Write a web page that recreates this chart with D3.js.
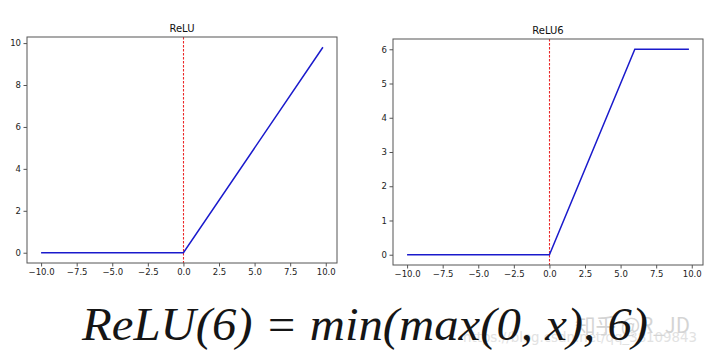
<!DOCTYPE html>
<html><head><meta charset="utf-8">
<script src="https://cdnjs.cloudflare.com/ajax/libs/d3/7.8.5/d3.min.js"></script>
<style>body{margin:0;background:#fff}svg{display:block}</style>
</head><body>
<svg id="c" width="709" height="356"></svg>
<script>
// breakpoints of the plotted polylines
const reluX = [-10, 0, 9.8];
const reluY = [0, 0, 9.8];
const relu6X = [-10, 0, 6, 9.8];
const relu6Y = [0, 0, 6, 6];
const xTicks = [-10, -7.5, -5, -2.5, 0, 2.5, 5, 7.5, 10];
const reluYTicks = [0, 2, 4, 6, 8, 10];
const relu6YTicks = [0, 1, 2, 3, 4, 5, 6];
const titles = ["ReLU", "ReLU6"];
const formula = "ReLU(6) = min(max(0, x), 6)";
const watermark = "知乎 @R_JD";
const watermarkUrl = "https://blog.csdn.net/qq_38109843";

const svg = d3.select("#c");
const fmt = v => (v < 0 ? "\u2212" : "") + Math.abs(v).toFixed(1);

function panel(box, xs, ys, yDom, yTicks, title, titleY) {
  const x = d3.scaleLinear().domain([-10.99, 10.79]).range([box.x0, box.x1]);
  const y = d3.scaleLinear().domain(yDom).range([box.y1, box.y0]);
  const g = svg.append("g");
  const x0 = Math.round(x(0)) + 0.5;
  g.append("line").attr("x1", x0).attr("x2", x0).attr("y1", box.y0).attr("y2", box.y1)
    .style("stroke", "rgb(235,40,40)").style("stroke-width", "1.1px").style("stroke-dasharray", "2.5,1.5");
  const line = d3.line().x(d => x(d[0])).y(d => y(d[1]));
  g.append("path").datum(xs.map((v, i) => [v, ys[i]])).attr("d", line)
    .attr("fill", "none").attr("stroke", "#1a1acc").attr("stroke-width", 1.5);
  g.append("rect").attr("x", box.x0).attr("y", box.y0).attr("width", box.x1 - box.x0).attr("height", box.y1 - box.y0)
    .attr("fill", "none").attr("stroke", "#555").attr("stroke-width", 1);
  const xa = g.append("g").attr("transform", `translate(0,${box.y1})`)
    .call(d3.axisBottom(x).tickValues(xTicks).tickFormat(fmt).tickSize(3.5).tickPadding(2.5));
  const ya = g.append("g").attr("transform", `translate(${box.x0},0)`)
    .call(d3.axisLeft(y).tickValues(yTicks).tickFormat(d3.format("d")).tickSize(3.5).tickPadding(2.5));
  [xa, ya].forEach(a => {
    a.select(".domain").remove();
    a.selectAll("line").attr("stroke", "#555");
    a.selectAll("text").attr("fill", "#222").style("font-family", "DejaVu Sans").style("font-size", "8.5px");
  });
  g.append("text").attr("x", (box.x0 + box.x1) / 2).attr("y", titleY).attr("text-anchor", "middle")
    .style("font-family", "DejaVu Sans").style("font-size", "10px").attr("fill", "#111").text(title);
}

panel({x0: 27, x1: 337, y0: 37, y1: 263}, reluX, reluY, [-0.49, 10.29], reluYTicks, titles[0], 32);
panel({x0: 393, x1: 703, y0: 39, y1: 265}, relu6X, relu6Y, [-0.3, 6.3], relu6YTicks, titles[1], 34);

// faint watermark (behind formula, as in the reference)
svg.append("text").attr("x", 463).attr("y", 342).attr("textLength", 234).attr("lengthAdjust", "spacingAndGlyphs")
  .style("font-family", "DejaVu Sans").style("font-size", "14px")
  .attr("fill", "#e2e2e2").text(watermarkUrl);
svg.append("text").attr("x", 575).attr("y", 333).attr("textLength", 115).attr("lengthAdjust", "spacingAndGlyphs")
  .style("font-family", "Noto Sans CJK SC").style("font-size", "21px")
  .attr("fill", "#d4d4d4").text(watermark);

svg.append("text").attr("x", 82).attr("y", 340).attr("textLength", 566).attr("lengthAdjust", "spacingAndGlyphs")
  .style("font-family", "Liberation Serif").style("font-style", "italic").style("font-size", "47px")
  .attr("fill", "#151515").text(formula);
</script>
</body></html>
